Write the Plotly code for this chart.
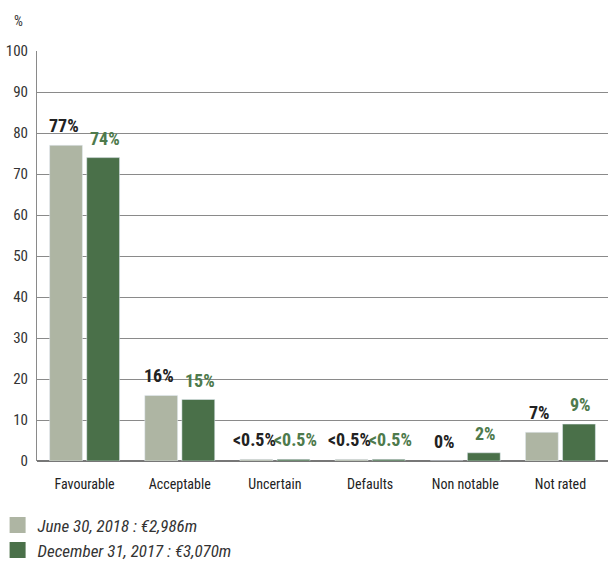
import plotly.graph_objects as go

categories = ["Favourable", "Acceptable", "Uncertain", "Defaults", "Non notable", "Not rated"]
june_2018 = [77, 16, 0.4, 0.4, 0, 7]
dec_2017 = [74, 15, 0.4, 0.4, 2, 9]
june_labels = ["77%", "16%", "<0.5%", "<0.5%", "0%", "7%"]
dec_labels = ["74%", "15%", "<0.5%", "<0.5%", "2%", "9%"]
series_names = ["June 30, 2018 : €2,986m", "December 31, 2017 : €3,070m"]
y_ticks = [0, 10, 20, 30, 40, 50, 60, 70, 80, 90, 100]

LIGHT = "#aeb5a3"
DARK = "#4a7049"
COND = "Liberation Sans Narrow, Roboto Condensed, Arial Narrow, Roboto, sans-serif"

fig = go.Figure()
fig.add_trace(go.Bar(x=categories, y=june_2018, marker_color=LIGHT, showlegend=False, name=series_names[0]))
fig.add_trace(go.Bar(x=categories, y=dec_2017, marker_color=DARK, showlegend=False, name=series_names[1]))

# legend-only traces with larger square markers
for nm, col in zip(series_names, [LIGHT, DARK]):
    fig.add_trace(go.Scatter(x=[None], y=[None], mode="markers", name=nm,
                             marker=dict(symbol="square", size=16, color=col)))

for i, c in enumerate(categories):
    fig.add_annotation(x=c, y=june_2018[i], text="<b>%s</b>" % june_labels[i], showarrow=False,
                       xshift=-20.5, yshift=7, yanchor="bottom",
                       font=dict(family=COND, size=18, color="#222222"))
    fig.add_annotation(x=c, y=dec_2017[i], text="<b>%s</b>" % dec_labels[i], showarrow=False,
                       xshift=20.5, yshift=7, yanchor="bottom",
                       font=dict(family=COND, size=18, color="#4e7a4c"))

fig.add_annotation(x=-0.033, y=1.073, xref="paper", yref="paper", yanchor="middle", xanchor="center",
                   text="%", showarrow=False, font=dict(family=COND, size=14, color="#333333"))

fig.update_layout(
    width=608, height=565,
    margin=dict(l=37, r=0, t=51, b=104, autoexpand=False),
    paper_bgcolor="white", plot_bgcolor="white",
    barmode="group", bargap=0.22, bargroupgap=0.115,
    font=dict(family=COND, size=14, color="#333333"),
    xaxis=dict(showgrid=False, showline=False, ticks="outside", ticklen=10,
               tickcolor="rgba(0,0,0,0)", tickfont=dict(size=14, color="#222222"),
               fixedrange=True),
    yaxis=dict(range=[0, 100], tickvals=y_ticks, showgrid=True, gridcolor="#8a8a8a", gridwidth=1,
               zeroline=True, zerolinecolor="#777777", zerolinewidth=2,
               showline=True, linecolor="#8a8a8a", linewidth=1,
               ticks="outside", ticklen=5, tickcolor="rgba(0,0,0,0)",
               tickfont=dict(size=15, color="#333333")),
    legend=dict(x=-0.069, y=-0.113, xanchor="left", yanchor="top", orientation="v",
                font=dict(family=COND, size=17, color="#333333", style="italic"),
                itemwidth=30, tracegroupgap=0),
)

fig.write_html("out.html")
